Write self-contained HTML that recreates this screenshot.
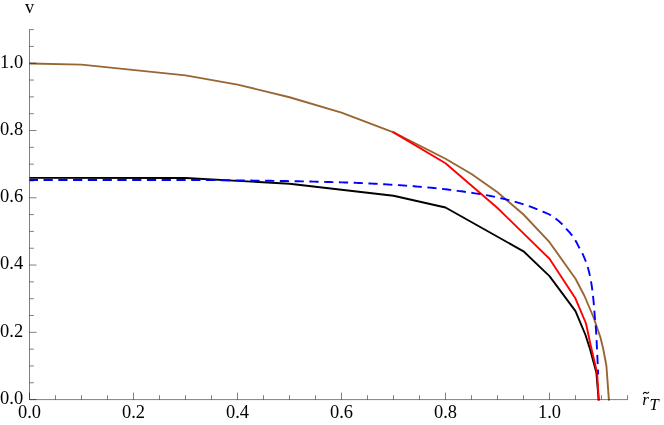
<!DOCTYPE html>
<html><head><meta charset="utf-8"><title>plot</title>
<style>
html,body{margin:0;padding:0;background:#fff;}
body{width:664px;height:425px;overflow:hidden;font-family:"Liberation Serif",serif;}
svg{display:block;will-change:transform;opacity:0.9999;}
svg text{font-family:"Liberation Serif",serif;font-size:18.44px;fill:#000;}
.c path{fill:none;stroke-width:1.9;stroke-linejoin:round;stroke-linecap:butt;}
</style></head>
<body>
<svg width="664" height="425" viewBox="0 0 664 425">
<rect width="664" height="425" fill="#fff"/>
<g class="c">
<path d="M29.50,177.90 L185.50,178.00 L289.50,183.75 L341.50,189.75 L393.50,195.75 L445.50,207.50 L523.50,251.30 L549.50,276.10 L575.50,311.10 L585.40,334.75 L590.00,349.00 L596.40,372.80 L598.70,400.40" stroke="#000"/>
<path d="M29.50,63.50 L81.50,64.65 L185.50,75.40 L237.50,84.60 L289.50,97.25 L341.50,112.55 L393.50,132.35 L445.50,158.75 L471.50,174.00 L497.50,192.20 L523.50,214.50 L549.50,242.20 L575.50,278.70 L584.50,296.00 L593.50,317.25 L600.40,337.25 L603.25,349.00 L606.40,365.80 L608.95,400.60" stroke="#996633"/>
<path d="M392.60,132.00 L393.50,132.35 L445.50,163.20 L497.50,208.00 L549.50,258.80 L575.50,298.60 L586.00,323.50 L590.60,345.00 L597.10,372.80 L598.80,400.60" stroke="#ff0000"/>
<path d="M29.50,180.00 L31.25,180.00 L33.00,180.00 L34.75,180.00 L36.50,180.00 L38.25,180.00 L40.00,180.00 L41.75,180.00 L43.50,180.00 L45.25,180.00 L47.00,180.00 L48.75,180.00 L50.50,180.00 L52.25,180.00 L54.00,180.00 L55.75,180.00 L57.50,180.00 L59.25,180.00 L61.00,180.00 L62.74,180.00 L64.49,180.00 L66.24,180.00 L67.99,180.00 L69.74,180.00 L71.49,180.00 L73.24,180.00 L74.99,180.00 L76.74,180.00 L78.49,180.00 L80.24,180.00 L81.99,180.00 L83.74,180.00 L85.49,180.00 L87.24,180.00 L88.99,180.00 L90.74,180.00 L92.49,180.00 L94.24,180.00 L95.99,180.00 L97.74,180.00 L99.49,180.00 L101.24,180.00 L102.99,180.00 L104.74,180.00 L106.49,180.00 L108.24,180.00 L109.99,180.00 L111.74,180.00 L113.49,180.00 L115.24,180.00 L116.99,180.00 L118.74,180.00 L120.49,180.00 L122.23,180.00 L123.98,180.00 L125.73,180.00 L127.48,180.00 L129.23,180.00 L130.98,180.00 L132.73,180.00 L134.48,180.00 L136.23,180.00 L137.98,180.00 L139.73,180.00 L141.48,180.00 L143.23,180.00 L144.98,180.00 L146.73,180.00 L148.48,180.00 L150.23,180.00 L151.98,180.00 L153.73,180.00 L155.48,180.00 L157.23,180.00 L158.98,180.00 L160.73,180.00 L162.48,180.00 L164.23,180.00 L165.98,180.00 L167.73,180.00 L169.48,180.00 L171.23,180.00 L172.98,180.00 L174.73,180.00 L176.47,180.00 L178.22,180.00 L179.97,180.00 L181.72,180.00 L183.47,180.00 L185.22,180.00 L186.97,180.00 L188.72,180.00 L190.47,180.00 L192.22,180.01 L193.97,180.01 L195.72,180.02 L197.47,180.02 L199.22,180.03 L200.97,180.04 L202.72,180.05 L204.47,180.06 L206.22,180.07 L207.97,180.08 L209.72,180.09 L211.47,180.11 L213.22,180.12 L214.97,180.14 L216.72,180.15 L218.47,180.17 L220.22,180.18 L221.97,180.20 L223.72,180.22 L225.47,180.24 L227.22,180.26 L228.96,180.28 L230.71,180.30 L232.46,180.32 L234.21,180.34 L235.96,180.36 L237.71,180.38 L239.46,180.40 L241.21,180.42 L242.96,180.45 L244.71,180.47 L246.46,180.49 L248.21,180.51 L249.96,180.54 L251.71,180.56 L253.46,180.58 L255.21,180.61 L256.96,180.63 L258.71,180.65 L260.46,180.68 L262.21,180.70 L263.96,180.72 L265.71,180.75 L267.46,180.77 L269.20,180.79 L270.95,180.82 L272.70,180.84 L274.45,180.87 L276.20,180.89 L277.95,180.92 L279.70,180.95 L281.45,180.98 L283.20,181.00 L284.95,181.03 L286.70,181.06 L288.45,181.09 L290.20,181.13 L291.95,181.16 L293.70,181.19 L295.45,181.22 L297.20,181.26 L298.95,181.29 L300.70,181.33 L302.45,181.36 L304.20,181.40 L305.95,181.44 L307.70,181.47 L309.45,181.51 L311.20,181.55 L312.94,181.59 L314.69,181.63 L316.44,181.68 L318.19,181.72 L319.94,181.76 L321.69,181.81 L323.44,181.85 L325.19,181.90 L326.94,181.94 L328.69,181.99 L330.44,182.04 L332.19,182.09 L333.93,182.14 L335.68,182.19 L337.43,182.24 L339.18,182.29 L340.93,182.34 L342.68,182.40 L344.42,182.45 L346.17,182.51 L347.92,182.56 L349.67,182.62 L351.42,182.68 L353.17,182.75 L354.91,182.82 L356.66,182.88 L358.41,182.96 L360.16,183.03 L361.91,183.10 L363.66,183.18 L365.41,183.26 L367.15,183.35 L368.90,183.43 L370.65,183.52 L372.40,183.61 L374.15,183.70 L375.90,183.79 L377.65,183.88 L379.39,183.98 L381.14,184.08 L382.89,184.18 L384.64,184.28 L386.38,184.39 L388.13,184.49 L389.88,184.60 L391.63,184.71 L393.37,184.83 L395.12,184.94 L396.87,185.06 L398.61,185.17 L400.36,185.29 L402.10,185.41 L403.85,185.54 L405.59,185.66 L407.34,185.79 L409.08,185.91 L410.83,186.04 L412.57,186.17 L414.31,186.31 L416.06,186.44 L417.80,186.58 L419.54,186.71 L421.28,186.85 L423.02,187.00 L424.77,187.15 L426.51,187.30 L428.25,187.46 L429.99,187.62 L431.73,187.79 L433.47,187.96 L435.22,188.14 L436.96,188.32 L438.70,188.51 L440.44,188.70 L442.18,188.90 L443.92,189.10 L445.66,189.30 L447.40,189.51 L449.14,189.72 L450.88,189.93 L452.62,190.15 L454.36,190.38 L456.09,190.60 L457.83,190.84 L459.57,191.07 L461.30,191.31 L463.03,191.55 L464.77,191.79 L466.50,192.04 L468.23,192.29 L469.96,192.55 L471.69,192.81 L473.42,193.07 L475.15,193.33 L476.88,193.60 L478.60,193.87 L480.33,194.14 L482.05,194.42 L483.77,194.71 L485.50,195.01 L487.22,195.33 L488.94,195.65 L490.66,195.99 L492.38,196.33 L494.09,196.69 L495.81,197.05 L497.52,197.43 L499.23,197.81 L500.94,198.20 L502.64,198.60 L504.34,199.00 L506.04,199.41 L507.73,199.83 L509.43,200.26 L511.12,200.71 L512.81,201.16 L514.50,201.63 L516.18,202.11 L517.87,202.60 L519.55,203.11 L521.22,203.62 L522.89,204.14 L524.56,204.68 L526.22,205.22 L527.88,205.78 L529.53,206.34 L531.18,206.92 L532.82,207.53 L534.45,208.16 L536.07,208.82 L537.69,209.49 L539.31,210.16 L540.92,210.84 L542.54,211.51 L544.17,212.17 L545.80,212.83 L547.41,213.51 L549.00,214.24 L550.54,215.04 L552.03,215.95 L553.49,216.94 L554.90,217.97 L556.28,219.03 L557.65,220.14 L558.98,221.28 L560.28,222.46 L561.55,223.66 L562.77,224.90 L563.94,226.20 L565.09,227.53 L566.26,228.83 L567.45,230.13 L568.63,231.42 L569.80,232.72 L570.94,234.05 L572.02,235.41 L573.06,236.82 L574.06,238.27 L575.00,239.74 L575.88,241.25 L576.71,242.78 L577.52,244.34 L578.31,245.90 L579.12,247.46 L579.94,249.00 L580.79,250.54 L581.64,252.08 L582.46,253.62 L583.23,255.19 L583.92,256.78 L584.60,258.39 L585.25,260.02 L585.89,261.66 L586.49,263.31 L587.06,264.97 L587.60,266.64 L588.10,268.32 L588.55,270.00 L588.98,271.69 L589.38,273.39 L589.76,275.09 L590.12,276.81 L590.47,278.53 L590.79,280.25 L591.10,281.98 L591.39,283.71 L591.66,285.44 L591.92,287.17 L592.16,288.90 L592.39,290.63 L592.61,292.37 L592.81,294.11 L593.01,295.85 L593.20,297.59 L593.37,299.33 L593.54,301.07 L593.70,302.81 L593.85,304.56 L593.99,306.30 L594.13,308.05 L594.26,309.79 L594.40,311.54 L594.54,313.28 L594.69,315.02 L594.84,316.77 L595.00,318.51 L595.16,320.25 L595.32,321.99 L595.48,323.74 L595.64,325.48 L595.79,327.22 L595.93,328.97 L596.06,330.71 L596.18,332.46 L596.29,334.20 L596.39,335.95 L596.48,337.70 L596.56,339.44 L596.64,341.19 L596.72,342.94 L596.79,344.69 L596.87,346.44 L596.96,348.18 L597.04,349.93 L597.12,351.68 L597.21,353.43 L597.29,355.17 L597.37,356.92 L597.46,358.67 L597.54,360.42 L597.62,362.17 L597.71,363.91 L597.79,365.66 L597.87,367.41 L597.95,369.16 L598.04,370.90 L598.12,372.65 L598.20,374.40" stroke="#0000ff" stroke-dasharray="9.23 5.54" stroke-dashoffset="0.75"/>
</g>
<g>
<path d="M29.5,29.353999999999985 V399.6 H627.75" fill="none" stroke="#000" stroke-width="0.5"/>
<path d="M29.50,399.6 v-7.0 M55.50,399.6 v-4.4 M81.50,399.6 v-4.4 M107.50,399.6 v-4.4 M133.50,399.6 v-7.0 M159.50,399.6 v-4.4 M185.50,399.6 v-4.4 M211.50,399.6 v-4.4 M237.50,399.6 v-7.0 M263.50,399.6 v-4.4 M289.50,399.6 v-4.4 M315.50,399.6 v-4.4 M341.50,399.6 v-7.0 M367.50,399.6 v-4.4 M393.50,399.6 v-4.4 M419.50,399.6 v-4.4 M445.50,399.6 v-7.0 M471.50,399.6 v-4.4 M497.50,399.6 v-4.4 M523.50,399.6 v-4.4 M549.50,399.6 v-7.0 M575.50,399.6 v-4.4 M601.50,399.6 v-4.4 M627.50,399.6 v-4.4 M29.5,399.60 h7.0 M29.5,382.78 h4.4 M29.5,365.96 h4.4 M29.5,349.15 h4.4 M29.5,332.33 h7.0 M29.5,315.51 h4.4 M29.5,298.69 h4.4 M29.5,281.87 h4.4 M29.5,265.06 h7.0 M29.5,248.24 h4.4 M29.5,231.42 h4.4 M29.5,214.60 h4.4 M29.5,197.78 h7.0 M29.5,180.97 h4.4 M29.5,164.15 h4.4 M29.5,147.33 h4.4 M29.5,130.51 h7.0 M29.5,113.69 h4.4 M29.5,96.88 h4.4 M29.5,80.06 h4.4 M29.5,63.24 h7.0 M29.5,46.42 h4.4 M29.5,29.60 h4.4" fill="none" stroke="#000" stroke-width="0.5"/>
</g>
<g>
<text x="29.50" y="417.7" text-anchor="middle">0.0</text>
<text x="23.15" y="404.00" text-anchor="end">0.0</text>
<text x="133.50" y="417.7" text-anchor="middle">0.2</text>
<text x="23.15" y="336.73" text-anchor="end">0.2</text>
<text x="237.50" y="417.7" text-anchor="middle">0.4</text>
<text x="23.15" y="269.46" text-anchor="end">0.4</text>
<text x="341.50" y="417.7" text-anchor="middle">0.6</text>
<text x="23.15" y="202.18" text-anchor="end">0.6</text>
<text x="445.50" y="417.7" text-anchor="middle">0.8</text>
<text x="23.15" y="134.91" text-anchor="end">0.8</text>
<text x="549.50" y="417.7" text-anchor="middle">1.0</text>
<text x="23.15" y="67.64" text-anchor="end">1.0</text>
<text x="29.5" y="12.7" text-anchor="middle">v</text>
<text x="642.3" y="405.2" font-style="italic" style="font-size:17px">r</text>
<text x="649.4" y="409.6" font-style="italic" style="font-size:16.6px">T</text>
<path d="M643.5,393.6 C643.9,392.4 644.9,392.1 646.0,392.8 C647.0,393.5 648.0,393.4 648.6,392.3" fill="none" stroke="#000" stroke-width="1.2" stroke-linecap="round"/>
</g>
</svg>
</body></html>
